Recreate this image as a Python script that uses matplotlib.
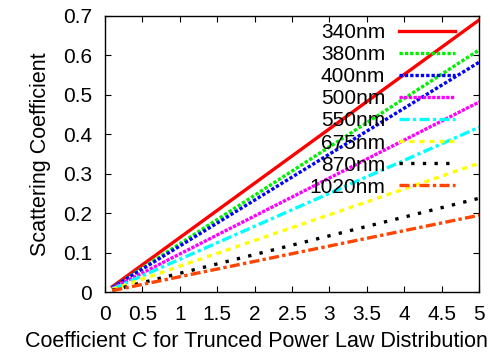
import matplotlib.pyplot as plt

plt.rcParams['font.family'] = ['Liberation Sans', 'DejaVu Sans']

# --- data ---
wavelengths = ["340nm", "380nm", "400nm", "500nm", "550nm", "675nm", "870nm", "1020nm"]
c_values = [0.1, 5.0]
scat_340 = [0.014, 0.690]
scat_380 = [0.012, 0.614]
scat_400 = [0.012, 0.583]
scat_500 = [0.010, 0.482]
scat_550 = [0.008, 0.418]
scat_675 = [0.007, 0.327]
scat_870 = [0.005, 0.238]
scat_1020 = [0.004, 0.195]

series = [scat_340, scat_380, scat_400, scat_500, scat_550, scat_675, scat_870, scat_1020]
colors = ["#ff0000", "#00ee00", "#0000ff", "#ff00ff", "#00ffff", "#ffff00", "#000000", "#ff4500"]
styles = ["-", (0, (1, 0.6)), (0, (1, 0.6)), (0, (1, 0.4)), (0, (3, 1, 1, 1)),
          (0, (1.5, 1.5)), (0, (1, 2.5)), (0, (3, 1, 1, 1))]

fig, ax = plt.subplots(figsize=(4.9, 3.55), dpi=100)
fig.subplots_adjust(left=0.214, right=0.978, top=0.955, bottom=0.177)

for y, lab, col, ls in zip(series, wavelengths, colors, styles):
    ax.plot(c_values, y, color=col, linestyle=ls, linewidth=2.4, label=lab)

ax.set_xlim(0, 5)
ax.set_ylim(0, 0.7)
ax.set_xticks([0, 0.5, 1, 1.5, 2, 2.5, 3, 3.5, 4, 4.5, 5])
ax.set_xticklabels(["0", "0.5", "1", "1.5", "2", "2.5", "3", "3.5", "4", "4.5", "5"])
ax.set_yticks([0, 0.1, 0.2, 0.3, 0.4, 0.5, 0.6, 0.7])
ax.set_yticklabels(["0", "0.1", "0.2", "0.3", "0.4", "0.5", "0.6", "0.7"])
ax.tick_params(direction="in", top=True, right=True, length=4, labelsize=15, pad=9)
for s in ax.spines.values():
    s.set_linewidth(1.0)

ax.set_xlabel("Coefficient C for Trunced Power Law Distribution", fontsize=15.5)
ax.xaxis.set_label_coords(0.404, -0.142)
ax.set_ylabel("Scattering Coefficient", fontsize=15.5, labelpad=9)

ax.legend(loc="upper right", bbox_to_anchor=(0.935, 0.975), frameon=False, markerfirst=False,
          fontsize=15, handlelength=2.7, handletextpad=0.65, labelspacing=0.15,
          borderaxespad=0, borderpad=0)

plt.savefig("out.png", dpi=100)
